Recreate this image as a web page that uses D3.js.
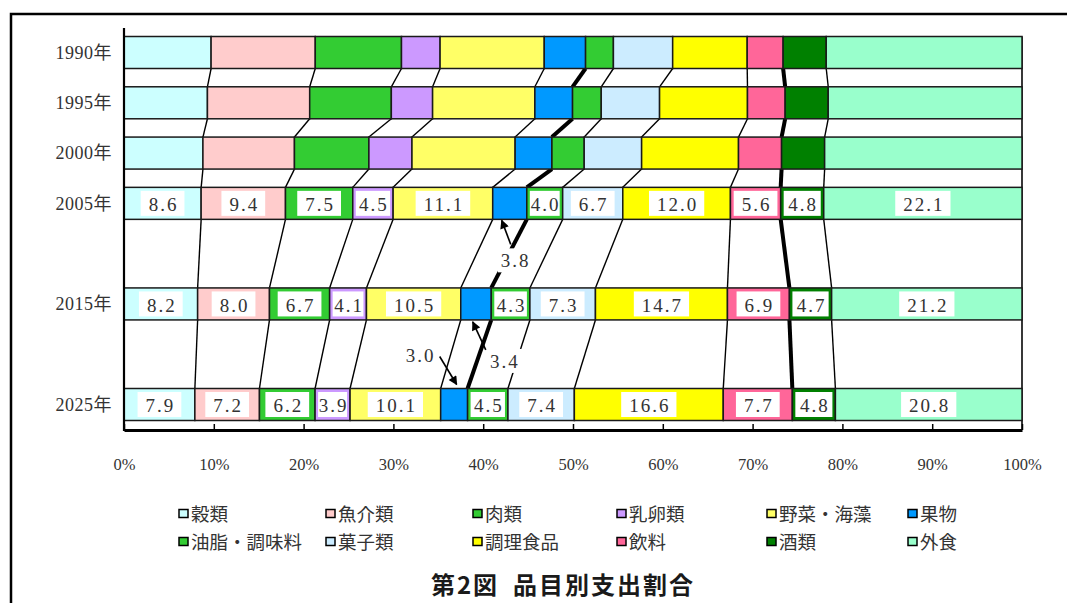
<!DOCTYPE html>
<html><head><meta charset="utf-8">
<script src="https://cdn.jsdelivr.net/npm/d3@7"></script>
<style>
html,body{margin:0;padding:0;background:#fff;}
svg{display:block;}
</style></head>
<body>
<svg id="chart" width="1067" height="603"></svg>
<script>
// ---- data ----
const categories = ["穀類","魚介類","肉類","乳卵類","野菜・海藻","果物","油脂・調味料","菓子類","調理食品","飲料","酒類","外食"];
const colors = ["#CCFFFF","#FFCCCC","#33CC33","#CC99FF","#FFFF66","#0099FF","#33CC33","#CCECFF","#FFFF00","#FF6699","#008000","#99FFCC"];
const years = [1990, 1995, 2000, 2005, 2015, 2025];
const v1990 = [9.7, 11.6, 9.6, 4.3, 11.6, 4.6, 3.1, 6.6, 8.3, 4.0, 4.8, 21.8];
const v1995 = [9.3, 11.4, 9.1, 4.6, 11.4, 4.2, 3.2, 6.5, 9.8, 4.2, 4.8, 21.6];
const v2000 = [8.8, 10.2, 8.3, 4.8, 11.5, 4.1, 3.6, 6.4, 10.8, 4.8, 4.8, 22.0];
const v2005 = [8.6, 9.4, 7.5, 4.5, 11.1, 3.8, 4.0, 6.7, 12.0, 5.6, 4.8, 22.1];
const v2015 = [8.2, 8.0, 6.7, 4.1, 10.5, 3.4, 4.3, 7.3, 14.7, 6.9, 4.7, 21.2];
const v2025 = [7.9, 7.2, 6.2, 3.9, 10.1, 3.0, 4.5, 7.4, 16.6, 7.7, 4.8, 20.8];
const seriesValues = [v1990, v1995, v2000, v2005, v2015, v2025];
const labeledYears = [2005, 2015, 2025];
const unlabeledCategory = "果物";
const thickBoundaries = ["果物", "飲料"]; // right edge of these segments
const xTickValues = [0, 0.1, 0.2, 0.3, 0.4, 0.5, 0.6, 0.7, 0.8, 0.9, 1.0];
const fruitNotes = ["3.8", "3.4", "3.0"];
const fruitNoteYears = [2005, 2015, 2025];
const legendCols = 6;
const titleText = "第2図\u2002品目別支出割合";

// ---- build table ----
const rows = years.map((yr, i) => {
  const o = {year: yr};
  categories.forEach((c, j) => o[c] = seriesValues[i][j]);
  return o;
});
const stacked = d3.stack().keys(categories).offset(d3.stackOffsetExpand)(rows);

const svg = d3.select("#chart");
const x = d3.scaleLinear().domain([0, 1]).range([124, 1022]);
const y = d3.scaleLinear().domain([1990, 2025]).range([52.5, 404.5]);
const barH = 32;
const axisY = 430;
const serif = "'Liberation Serif','Noto Sans CJK JP',serif";
const cjk = "'Noto Sans CJK JP','Noto Sans',sans-serif";

// frame
svg.append("path").attr("d", "M11,603 L11,14 L1067,14")
  .attr("fill", "none").attr("stroke", "#000").attr("stroke-width", 2.5);

// connectors between rows
const gConn = svg.append("g");
for (let i = 0; i < years.length - 1; i++) {
  for (let j = 0; j < categories.length - 1; j++) {
    const thick = thickBoundaries.includes(categories[j]);
    gConn.append("line")
      .attr("x1", x(stacked[j][i][1])).attr("y1", y(years[i]) + barH / 2)
      .attr("x2", x(stacked[j][i + 1][1])).attr("y2", y(years[i + 1]) - barH / 2)
      .attr("stroke", "#000").attr("stroke-width", thick ? 4 : 1.4);
  }
}

// right edge line
svg.append("line").attr("x1", x(1)).attr("x2", x(1))
  .attr("y1", y(1990) - barH / 2).attr("y2", axisY)
  .attr("stroke", "#222").attr("stroke-width", 1.8);

// bars
const gBars = svg.append("g");
stacked.forEach((ser, j) => {
  gBars.selectAll(null).data(ser).enter().append("rect")
    .attr("x", d => x(d[0])).attr("width", d => x(d[1]) - x(d[0]))
    .attr("y", (d, i) => y(years[i]) - barH / 2).attr("height", barH)
    .attr("fill", colors[j]).attr("stroke", "#1a1a1a").attr("stroke-width", 1.5);
});

// labels
const gLab = svg.append("g");
stacked.forEach((ser, j) => {
  if (categories[j] === unlabeledCategory) return;
  ser.forEach((d, i) => {
    const yr = years[i];
    if (!labeledYears.includes(yr)) return;
    const val = seriesValues[i][j].toFixed(1);
    const cx = (x(d[0]) + x(d[1])) / 2;
    const cy = y(yr);
    const segW = x(d[1]) - x(d[0]);
    const g = gLab.append("g");
    const r = g.append("rect").attr("fill", "#fff");
    const t = g.append("text").text(val)
      .attr("x", cx + 1).attr("y", cy + 1).attr("dy", "0.35em")
      .attr("text-anchor", "middle")
      .attr("font-family", serif).attr("font-size", 19)
      .attr("letter-spacing", "2px").attr("fill", "#333");
    const tw = t.node().getComputedTextLength();
    const bw = Math.min(tw + 14, segW - 6);
    r.attr("x", cx - bw / 2).attr("width", bw)
      .attr("y", cy - 12.5).attr("height", 25);
  });
});

// year labels
svg.append("g").selectAll("text").data(years).enter().append("text")
  .attr("x", 112).attr("y", d => y(d)).attr("dy", "0.35em")
  .attr("text-anchor", "end")
  .attr("font-family", serif).attr("font-size", 18).attr("letter-spacing", "0.5px")
  .attr("fill", "#333").text(d => d + "年");

// axes
svg.append("line").attr("x1", 124).attr("x2", 124).attr("y1", 28).attr("y2", axisY + 1)
  .attr("stroke", "#000").attr("stroke-width", 2.2);
const xAxis = d3.axisBottom(x).tickValues(xTickValues).tickSize(-6).tickSizeOuter(0)
  .tickPadding(28).tickFormat(d3.format(".0%"));
const gx = svg.append("g").attr("transform", `translate(0,${axisY})`).call(xAxis);
gx.select(".domain").attr("stroke", "#000").attr("stroke-width", 2.8);
gx.selectAll(".tick line").attr("stroke", "#000").attr("stroke-width", 1.5);
gx.selectAll(".tick text").attr("font-family", serif).attr("font-size", 16.5).attr("fill", "#333");

// fruit annotations
const defs = svg.append("defs");
defs.append("marker").attr("id", "ah").attr("viewBox", "0 0 10 10")
  .attr("refX", 9).attr("refY", 5).attr("markerWidth", 10).attr("markerHeight", 9)
  .attr("markerUnits", "userSpaceOnUse").attr("orient", "auto")
  .append("path").attr("d", "M0,0 L10,5 L0,10 Z").attr("fill", "#000");
const fruitIdx = categories.indexOf("果物");
const noteLayout = [
  {lx: 23, ly: 41, ax1: 18, ay1: 25, ax2: 9, ay2: 1, top: false},
  {lx: 44, ly: 41, ax1: 25, ay1: 30, ax2: 12, ay2: 2, top: false},
  {lx: -20, ly: -33, ax1: -1, ay1: -32, ax2: 16, ay2: -4, top: true}
];
const gNotes = svg.append("g");
fruitNotes.forEach((txt, k) => {
  const i = years.indexOf(fruitNoteYears[k]);
  const d = stacked[fruitIdx][i];
  const L = noteLayout[k];
  const x0 = x(d[0]);
  const yb = L.top ? y(years[i]) - barH / 2 : y(years[i]) + barH / 2;
  const g = gNotes.append("g");
  const r = g.append("rect").attr("fill", "#fff");
  const t = g.append("text").text(txt)
    .attr("x", x0 + L.lx).attr("y", yb + L.ly).attr("dy", "0.35em")
    .attr("text-anchor", "middle").attr("font-family", serif).attr("font-size", 19)
    .attr("letter-spacing", "2px").attr("fill", "#333");
  const tw = t.node().getComputedTextLength();
  r.attr("x", x0 + L.lx - tw / 2 - 3).attr("width", tw + 6)
    .attr("y", yb + L.ly - 12).attr("height", 24);
  g.append("line")
    .attr("x1", x0 + L.ax1).attr("y1", yb + L.ay1)
    .attr("x2", x0 + L.ax2).attr("y2", yb + L.ay2)
    .attr("stroke", "#000").attr("stroke-width", 1.6).attr("marker-end", "url(#ah)");
});

// legend
const legendX = [179, 326, 473, 617, 767, 908];
const legendY = [514, 542];
const gLeg = svg.append("g");
categories.forEach((c, j) => {
  const lx = legendX[j % legendCols], ly = legendY[Math.floor(j / legendCols)];
  gLeg.append("rect").attr("x", lx).attr("y", ly - 4.5).attr("width", 9).attr("height", 8)
    .attr("fill", colors[j]).attr("stroke", "#000").attr("stroke-width", 1.5);
  gLeg.append("text").attr("x", lx + 12).attr("y", ly).attr("dy", "0.36em")
    .attr("font-family", cjk).attr("font-size", 18.5).attr("fill", "#333").text(c);
});

// title
svg.append("text").attr("x", 563).attr("y", 594).attr("text-anchor", "middle")
  .attr("font-family", cjk).attr("font-size", 24).attr("font-weight", 600)
  .attr("letter-spacing", "2px")
  .attr("fill", "#1a1a1a").text(titleText);
</script>
</body></html>
